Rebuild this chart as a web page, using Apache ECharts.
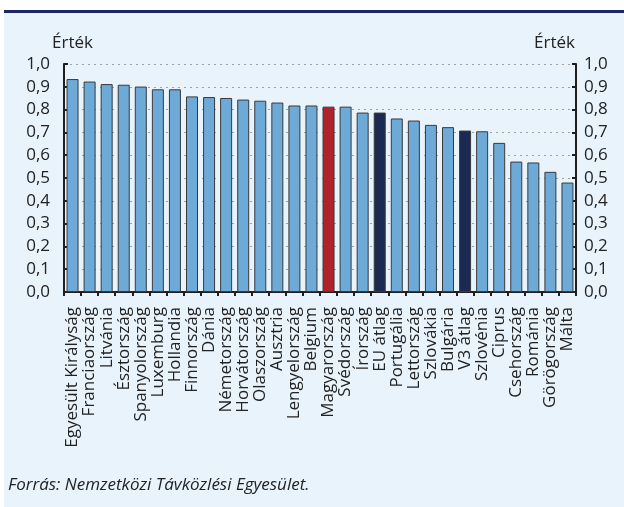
<!DOCTYPE html>
<html>
<head>
<meta charset="utf-8">
<script src="https://cdn.jsdelivr.net/npm/echarts@6/dist/echarts.min.js"></script>
<style>
  html, body { margin: 0; padding: 0; background: #ffffff; }
  #chart { width: 624px; height: 507px; }
</style>
</head>
<body>
<div id="chart"></div>
<script>
// Országok és átlagok, csökkenő sorrendben
const categories = [
  'Egyesült Királyság', 'Franciaország', 'Litvánia', 'Észtország', 'Spanyolország',
  'Luxemburg', 'Hollandia', 'Finnország', 'Dánia', 'Németország',
  'Horvátország', 'Olaszország', 'Ausztria', 'Lengyelország', 'Belgium',
  'Magyarország', 'Svédország', 'Írország', 'EU átlag', 'Portugália',
  'Lettország', 'Szlovákia', 'Bulgária', 'V3 átlag', 'Szlovénia',
  'Ciprus', 'Csehország', 'Románia', 'Görögország', 'Málta'
];
const values = [
  0.934, 0.923, 0.912, 0.909, 0.901,
  0.889, 0.889, 0.858, 0.855, 0.851,
  0.844, 0.839, 0.831, 0.818, 0.818,
  0.813, 0.813, 0.787, 0.787, 0.761,
  0.752, 0.733, 0.723, 0.708, 0.705,
  0.654, 0.572, 0.568, 0.527, 0.480
];
// Kiemelt oszlopok
const highlightRed = ['Magyarország'];
const highlightNavy = ['EU átlag', 'V3 átlag'];
const axisTitle = 'Érték';
const sourceText = 'Forrás: Nemzetközi Távközlési Egyesület.';

const FONT = '"Open Sans", "Noto Sans", sans-serif';
const fmt = v => v.toFixed(1).replace('.', ',');

function barColor(name) {
  if (highlightRed.includes(name)) return '#b0232a';
  if (highlightNavy.includes(name)) return '#1b2a52';
  return '#6eaad8';
}

const yAxisCommon = {
  type: 'value',
  min: 0,
  max: 1,
  interval: 0.1,
  axisLine: { show: true, lineStyle: { color: '#1e1e1e', width: 2 } },
  axisTick: { show: true, inside: true, length: 4, lineStyle: { color: '#1e1e1e', width: 2 } }
};

const chart = echarts.init(document.getElementById('chart'), null, { renderer: 'canvas' });
chart.setOption({
  animation: false,
  backgroundColor: '#ffffff',
  graphic: [
    { type: 'rect', z: -10, shape: { x: 4, y: 12, width: 620, height: 495 }, style: { fill: '#e8f3fb' } },
    { type: 'rect', z: -9, shape: { x: 4, y: 10, width: 620, height: 3 }, style: { fill: '#1c2667' } },
    { type: 'text', left: 52, top: 35, style: { text: axisTitle, fontSize: 17, fontFamily: FONT, fill: '#222' } },
    { type: 'text', left: 534, top: 35, style: { text: axisTitle, fontSize: 17, fontFamily: FONT, fill: '#222' } },
    { type: 'text', left: 8, top: 477, style: { text: sourceText, fontSize: 17, fontStyle: 'italic', fontFamily: FONT, fill: '#222' } }
  ],
  grid: { left: 64, right: 48, top: 64, bottom: 215, containLabel: false },
  xAxis: {
    type: 'category',
    data: categories,
    axisLine: { show: true, lineStyle: { color: '#1e1e1e', width: 2 } },
    axisTick: { show: true, alignWithLabel: false, length: 4, lineStyle: { color: '#1e1e1e', width: 2 } },
    axisLabel: { interval: 0, rotate: 90, color: '#222', fontSize: 17, fontFamily: FONT, margin: 15 }
  },
  yAxis: [
    Object.assign({}, yAxisCommon, {
      position: 'left',
      axisLabel: { formatter: fmt, color: '#222', fontSize: 17, fontFamily: FONT, margin: 14 },
      splitLine: { show: true, lineStyle: { color: '#a0a0a0', type: [2, 4], width: 1 } }
    }),
    Object.assign({}, yAxisCommon, {
      position: 'right',
      axisLabel: { formatter: fmt, color: '#222', fontSize: 17, fontFamily: FONT, margin: 8 },
      splitLine: { show: false }
    })
  ],
  series: [{
    type: 'bar',
    barWidth: 12,
    data: categories.map((name, i) => ({
      value: values[i],
      itemStyle: { color: barColor(name), borderColor: '#3a3a3a', borderWidth: 1 }
    }))
  }]
});
</script>
</body>
</html>
